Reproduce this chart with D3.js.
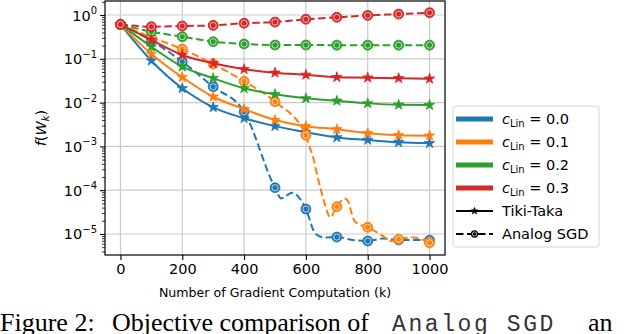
<!DOCTYPE html>
<html>
<head>
<meta charset="utf-8">
<script src="https://cdn.jsdelivr.net/npm/d3@7"></script>
<style>
body { margin: 0; background: #fff; }
svg { display: block; }
</style>
</head>
<body>
<div id="chart"></div>
<script>
// iterations (k) where markers sit
var iters = [0, 100, 200, 300, 400, 500, 600, 700, 800, 900, 1000];

// Tiki-Taka curves, one per c_Lin
var ttBlue = [0.61, 0.0905, 0.0212, 0.0078, 0.0044, 0.0029, 0.0021, 0.0016, 0.0014, 0.00124, 0.00118];
var ttOrange = [0.61, 0.129, 0.038, 0.0136, 0.0071, 0.0040, 0.0029, 0.00246, 0.0020, 0.0018, 0.00176];
var ttGreen = [0.61, 0.189, 0.066, 0.036, 0.0212, 0.0155, 0.0125, 0.011, 0.0096, 0.0089, 0.0088];
var ttRed = [0.61, 0.27, 0.122, 0.079, 0.058, 0.048, 0.043, 0.038, 0.037, 0.036, 0.035];

// Analog SGD curves (denser where the curve wiggles)
var sgdBlueX = [0, 100, 200, 300, 400, 500, 520, 555, 600, 630, 660, 700, 750, 800, 850, 900, 950, 1000];
var sgdBlueY = [0.61, 0.26, 0.086, 0.023, 0.0062, 1.14e-4, 6.5e-5, 8.7e-5, 3.7e-5, 1.04e-5, 8.3e-6, 8.5e-6, 7.3e-6, 6.9e-6, 7.9e-6, 7.3e-6, 7.3e-6, 7.2e-6];
var sgdOrangeX = [0, 100, 200, 300, 400, 500, 600, 608, 624, 635, 646, 657, 669, 678, 700, 726, 737, 748, 759, 800, 850, 875, 900, 950, 1000];
var sgdOrangeY = [0.61, 0.31, 0.167, 0.076, 0.0306, 0.0105, 0.0018, 1.17e-3, 5.4e-4, 2.45e-4, 1.2e-4, 6.0e-5, 3.2e-5, 2.4e-5, 4.2e-5, 6.5e-5, 5.5e-5, 2.95e-5, 1.9e-5, 1.42e-5, 8.9e-6, 6.9e-6, 7.6e-6, 8.3e-6, 6.3e-6];
var sgdGreenX = iters;
var sgdGreenY = [0.61, 0.416, 0.32, 0.246, 0.218, 0.206, 0.206, 0.205, 0.205, 0.205, 0.205];
var sgdRedX = iters;
var sgdRedY = [0.61, 0.54, 0.56, 0.58, 0.65, 0.69, 0.80, 0.885, 0.98, 1.05, 1.13];

var cLin = ["0.0", "0.1", "0.2", "0.3"];
var xTicks = [0, 200, 400, 600, 800, 1000];
var yExps = [0, -1, -2, -3, -4, -5];

var colors = ["#1f77b4", "#ff7f0e", "#2ca02c", "#d62728"];

var svgWidth = 634;
var svgHeight = 334;
var plot = { left: 105, right: 445, top: 1, bottom: 255 };

var svg = d3.select("#chart")
    .append("svg")
    .attr("width", svgWidth)
    .attr("height", svgHeight)
    .style("font-family", "'DejaVu Sans', sans-serif");

var x = d3.scaleLinear()
    .domain([-50, 1050])
    .range([plot.left, plot.right]);

var y = d3.scaleLog()
    .domain([Math.pow(10, -5.48), Math.pow(10, 0.32)])
    .range([plot.bottom, plot.top]);

// grid
var grid = svg.append("g").attr("stroke", "#cbcbcb").attr("stroke-width", 1.2);
xTicks.forEach(function(t) {
    grid.append("line")
        .attr("x1", x(t)).attr("x2", x(t))
        .attr("y1", plot.top).attr("y2", plot.bottom);
});
yExps.forEach(function(e) {
    grid.append("line")
        .attr("x1", plot.left).attr("x2", plot.right)
        .attr("y1", y(Math.pow(10, e))).attr("y2", y(Math.pow(10, e)));
});

// x axis
var xAxis = svg.append("g")
    .attr("transform", `translate(0, ${plot.bottom})`)
    .call(d3.axisBottom(x).tickValues(xTicks).tickFormat(d3.format("d"))
        .tickSize(5).tickPadding(4).tickSizeOuter(0));
xAxis.select(".domain").remove();
xAxis.selectAll("line").attr("stroke-width", 1.1);
xAxis.selectAll("text")
    .style("font-size", "14.5px")
    .style("font-family", "'DejaVu Sans', sans-serif");

// y axis, major + minor ticks
var minor = [];
for (var e = -6; e <= 0; e++) {
    for (var m = 2; m <= 9; m++) {
        var v = m * Math.pow(10, e);
        if (v > y.domain()[0] && v < y.domain()[1]) minor.push(v);
    }
}
var yAxis = svg.append("g")
    .attr("transform", `translate(${plot.left}, 0)`)
    .call(d3.axisLeft(y).tickValues(yExps.map(function(e) { return Math.pow(10, e); }))
        .tickSize(5).tickFormat("").tickSizeOuter(0));
yAxis.select(".domain").remove();
yAxis.selectAll("line").attr("stroke-width", 1.1);
var yMinor = svg.append("g")
    .attr("transform", `translate(${plot.left}, 0)`)
    .call(d3.axisLeft(y).tickValues(minor).tickSize(3).tickFormat("").tickSizeOuter(0));
yMinor.select(".domain").remove();
yMinor.selectAll("line").attr("stroke-width", 0.8);

yExps.forEach(function(e) {
    var t = svg.append("text")
        .attr("x", 97)
        .attr("y", y(Math.pow(10, e)) + 5.5)
        .attr("text-anchor", "end")
        .style("font-size", "14.5px");
    t.append("tspan").text("10");
    t.append("tspan")
        .style("font-size", "10px")
        .attr("dy", -6.5)
        .text(e === 0 ? "0" : "\u2212" + (-e));
});

// lines
var line = d3.line()
    .x(function(d) { return x(d[0]); })
    .y(function(d) { return y(d[1]); })
    .curve(d3.curveMonotoneX);

var ttSeries = [ttBlue, ttOrange, ttGreen, ttRed];
var sgdSeries = [[sgdBlueX, sgdBlueY], [sgdOrangeX, sgdOrangeY], [sgdGreenX, sgdGreenY], [sgdRedX, sgdRedY]];

var star = d3.symbol().type(d3.symbolStar);

function drawStar(g, cx, cy, size, color) {
    g.append("path")
        .attr("d", star.size(size)())
        .attr("transform", `translate(${cx}, ${cy})`)
        .attr("fill", color)
        .attr("stroke", color)
        .attr("stroke-width", 0.8);
}

function drawRing(g, cx, cy, r, color) {
    g.append("circle")
        .attr("cx", cx).attr("cy", cy).attr("r", r)
        .attr("fill", color)
        .attr("stroke", color)
        .attr("stroke-width", 0.8);
    g.append("circle")
        .attr("cx", cx).attr("cy", cy).attr("r", r * 0.62)
        .attr("fill", "none")
        .attr("stroke", "#fff")
        .attr("stroke-width", 0.8)
        .attr("opacity", 0.85);
}

var marks = svg.append("g");
for (var i = 0; i < 4; i++) {
    var tt = iters.map(function(k, j) { return [k, ttSeries[i][j]]; });
    marks.append("path")
        .attr("d", line(tt))
        .attr("fill", "none")
        .attr("stroke", colors[i])
        .attr("stroke-width", 2);
    tt.forEach(function(d) { drawStar(marks, x(d[0]), y(d[1]), 34, colors[i]); });

    var sx = sgdSeries[i][0], sy = sgdSeries[i][1];
    var sgd = sx.map(function(k, j) { return [k, sy[j]]; });
    marks.append("path")
        .attr("d", line(sgd))
        .attr("fill", "none")
        .attr("stroke", colors[i])
        .attr("stroke-width", 2)
        .attr("stroke-dasharray", "7.5,3.5");
    sgd.filter(function(d) { return d[0] % 100 === 0; })
        .forEach(function(d) { drawRing(marks, x(d[0]), y(d[1]), 5, colors[i]); });
}

// frame
svg.append("rect")
    .attr("x", plot.left).attr("y", plot.top)
    .attr("width", plot.right - plot.left)
    .attr("height", plot.bottom - plot.top)
    .attr("fill", "none")
    .attr("stroke", "#000")
    .attr("stroke-width", 1.2);

// labels
svg.append("text")
    .attr("x", (plot.left + plot.right) / 2)
    .attr("y", 297)
    .attr("text-anchor", "middle")
    .style("font-size", "12.6px")
    .text("Number of Gradient Computation (k)");

var yl = svg.append("text")
    .attr("transform", `translate(46, ${(plot.top + plot.bottom) / 2}) rotate(-90)`)
    .attr("text-anchor", "middle")
    .style("font-size", "14.5px");
yl.append("tspan").style("font-style", "italic").text("f");
yl.append("tspan").text("(");
yl.append("tspan").style("font-style", "italic").text("W");
yl.append("tspan").style("font-style", "italic").style("font-size", "10px").attr("dy", 3).text("k");
yl.append("tspan").attr("dy", -3).text(")");

// legend
var lg = svg.append("g");
lg.append("rect")
    .attr("x", 453).attr("y", 106)
    .attr("width", 146).attr("height", 141)
    .attr("rx", 3)
    .attr("fill", "#fff")
    .attr("fill-opacity", 0.8)
    .attr("stroke", "#d6d6d6")
    .attr("stroke-width", 1);
var rowY = function(r) { return 119 + r * 23; };
cLin.forEach(function(c, r) {
    lg.append("line")
        .attr("x1", 456).attr("x2", 493)
        .attr("y1", rowY(r)).attr("y2", rowY(r))
        .attr("stroke", colors[r])
        .attr("stroke-width", 5);
    var t = lg.append("text")
        .attr("x", 502)
        .attr("y", rowY(r) + 5)
        .style("font-size", "14.5px");
    t.append("tspan").style("font-style", "italic").text("c");
    t.append("tspan").style("font-size", "10px").attr("dy", 3).text("Lin");
    t.append("tspan").attr("dy", -3).text(" = " + c);
});
lg.append("line")
    .attr("x1", 456).attr("x2", 493)
    .attr("y1", rowY(4)).attr("y2", rowY(4))
    .attr("stroke", "#000").attr("stroke-width", 2);
drawStar(lg, 474.5, rowY(4), 14, "#000");
lg.append("text").attr("x", 502).attr("y", rowY(4) + 5).style("font-size", "14.5px").text("Tiki-Taka");
lg.append("line")
    .attr("x1", 456).attr("x2", 493)
    .attr("y1", rowY(5)).attr("y2", rowY(5))
    .attr("stroke", "#000").attr("stroke-width", 2)
    .attr("stroke-dasharray", "7.5,3.5");
drawRing(lg, 474.5, rowY(5), 3.4, "#000");
lg.append("text").attr("x", 502).attr("y", rowY(5) + 5).style("font-size", "14.5px").text("Analog SGD");

// caption under the figure (justified line, runs to the right edge as in the scan)
var cap = svg.append("text")
    .attr("y", 331)
    .style("font-family", "'Liberation Serif', serif")
    .style("font-size", "26px");
cap.append("tspan").attr("x", 0).text("Figure 2:");
cap.append("tspan").attr("x", 112).text("Objective comparison of");
cap.append("tspan").attr("x", 392)
    .style("font-family", "'Liberation Mono', monospace")
    .style("font-size", "23px")
    .style("letter-spacing", "2.6px")
    .style("fill", "#333")
    .text("Analog SGD");
cap.append("tspan").attr("x", 588).text("an");
</script>
</body>
</html>
